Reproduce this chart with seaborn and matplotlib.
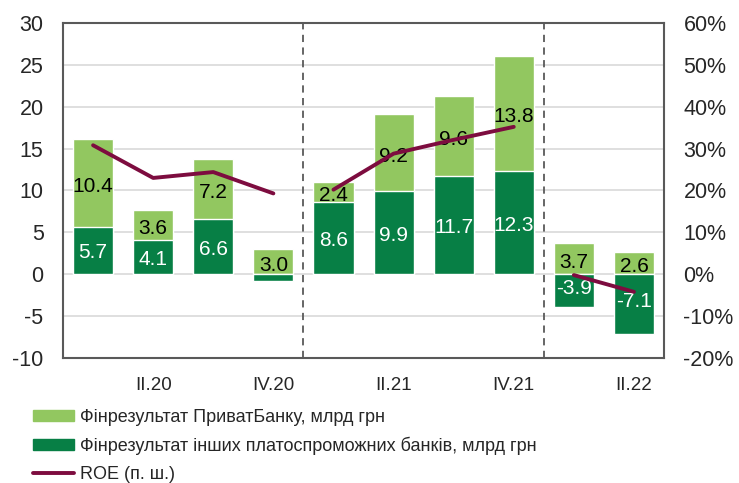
import numpy as np
import pandas as pd
import seaborn as sns
from matplotlib import pyplot as plt
from matplotlib.patches import Patch
from matplotlib.lines import Line2D

quarters = ["I.20", "II.20", "III.20", "IV.20", "I.21", "II.21", "III.21", "IV.21", "I.22", "II.22"]
privat = [10.4, 3.6, 7.2, 3.0, 2.4, 9.2, 9.6, 13.8, 3.7, 2.6]
others = [5.7, 4.1, 6.6, -0.8, 8.6, 9.9, 11.7, 12.3, -3.9, -7.1]
roe = [30.8, 23.0, 24.4, 19.3, 20.2, 28.8, 32.1, 35.2, -0.2, -4.2]
period = ["2020"] * 4 + ["2021"] * 4 + ["2022"] * 2
show_labels = [False, True, False, True, False, True, False, True, False, True]
other_labels = [True, True, True, False, True, True, True, True, True, True]

c_light = "#92c760"
c_dark = "#077f45"
c_roe = "#7d0c3f"

sns.set_style("white")
plt.rcParams["font.family"] = ["Liberation Sans", "DejaVu Sans"]
plt.rcParams["font.size"] = 15
plt.rcParams["axes.unicode_minus"] = False

df = pd.DataFrame({"q": quarters, "privat": privat, "others": others,
                   "roe": roe, "period": period})
df["pos"] = np.arange(len(df))
df["light_top"] = df.others.clip(lower=0) + df.privat

fig = plt.figure(figsize=(7.39, 4.83), dpi=100)
ax = fig.add_axes([0.0853, 0.2588, 0.8132, 0.6936])

sns.barplot(data=df, x="q", y="light_top", color=c_light, width=0.667,
            saturation=1, ax=ax, zorder=2)
sns.barplot(data=df, x="q", y="others", color=c_dark, width=0.667,
            saturation=1, ax=ax, zorder=3)

# value labels
for i, r in df.iterrows():
    base = max(r.others, 0)
    ax.text(i, base + r.privat / 2 - 0.4, f"{r.privat:.1f}", ha="center", va="center",
            color="black", fontsize=15, zorder=5)
    if other_labels[i]:
        ax.text(i, r.others / 2 - 0.3 * np.sign(r.others), f"{r.others:.1f}",
                ha="center", va="center", color="white", fontsize=15, zorder=5)

ax.set_xlim(-0.5, 9.5)
ax.set_ylim(-10, 30)
ax.set_yticks(range(-10, 31, 5))
ax.yaxis.grid(True, color="#d9d9d9", linewidth=1.2, zorder=0)
ax.set_axisbelow(True)
ax.set_xticks(range(len(quarters)))
ax.set_xticklabels([q if s else "" for q, s in zip(quarters, show_labels)], fontsize=13.5)
ax.tick_params(axis="x", length=0, pad=14)
ax.tick_params(axis="y", length=0, labelsize=15.5, pad=14)
ax.set_xlabel("")
ax.set_ylabel("")
for sp in ax.spines.values():
    sp.set_color("#595959")
    sp.set_linewidth(1.5)

for xv in [3.5, 7.5]:
    ax.axvline(xv, color="#595959", linestyle=(0, (4, 3)), linewidth=1.3, zorder=4)

ax2 = ax.twinx()
sns.lineplot(data=df, x="pos", y="roe", units="period", estimator=None,
             color=c_roe, linewidth=2.8, ax=ax2, zorder=6, legend=False)
ax2.set_ylim(-20, 60)
ax2.set_yticks(range(-20, 61, 10))
ax2.set_yticklabels([f"{v}%" for v in range(-20, 61, 10)])
ax2.tick_params(axis="y", length=0, labelsize=15.5, pad=14)
ax2.set_ylabel("")
ax2.set_xlim(-0.5, 9.5)
for sp in ax2.spines.values():
    sp.set_visible(False)

handles = [Patch(color=c_light, label="Фінрезультат ПриватБанку, млрд грн"),
           Patch(color=c_dark, label="Фінрезультат інших платоспроможних банків, млрд грн"),
           Line2D([], [], color=c_roe, linewidth=2.8, label="ROE (п. ш.)")]
fig.legend(handles=handles, loc="upper left", bbox_to_anchor=(0.045, 0.153),
           frameon=False, fontsize=13, handlelength=2.25, handleheight=0.55,
           handletextpad=0.35, labelspacing=0.6, borderaxespad=0, borderpad=0)

fig.savefig("out.png", dpi=100)
